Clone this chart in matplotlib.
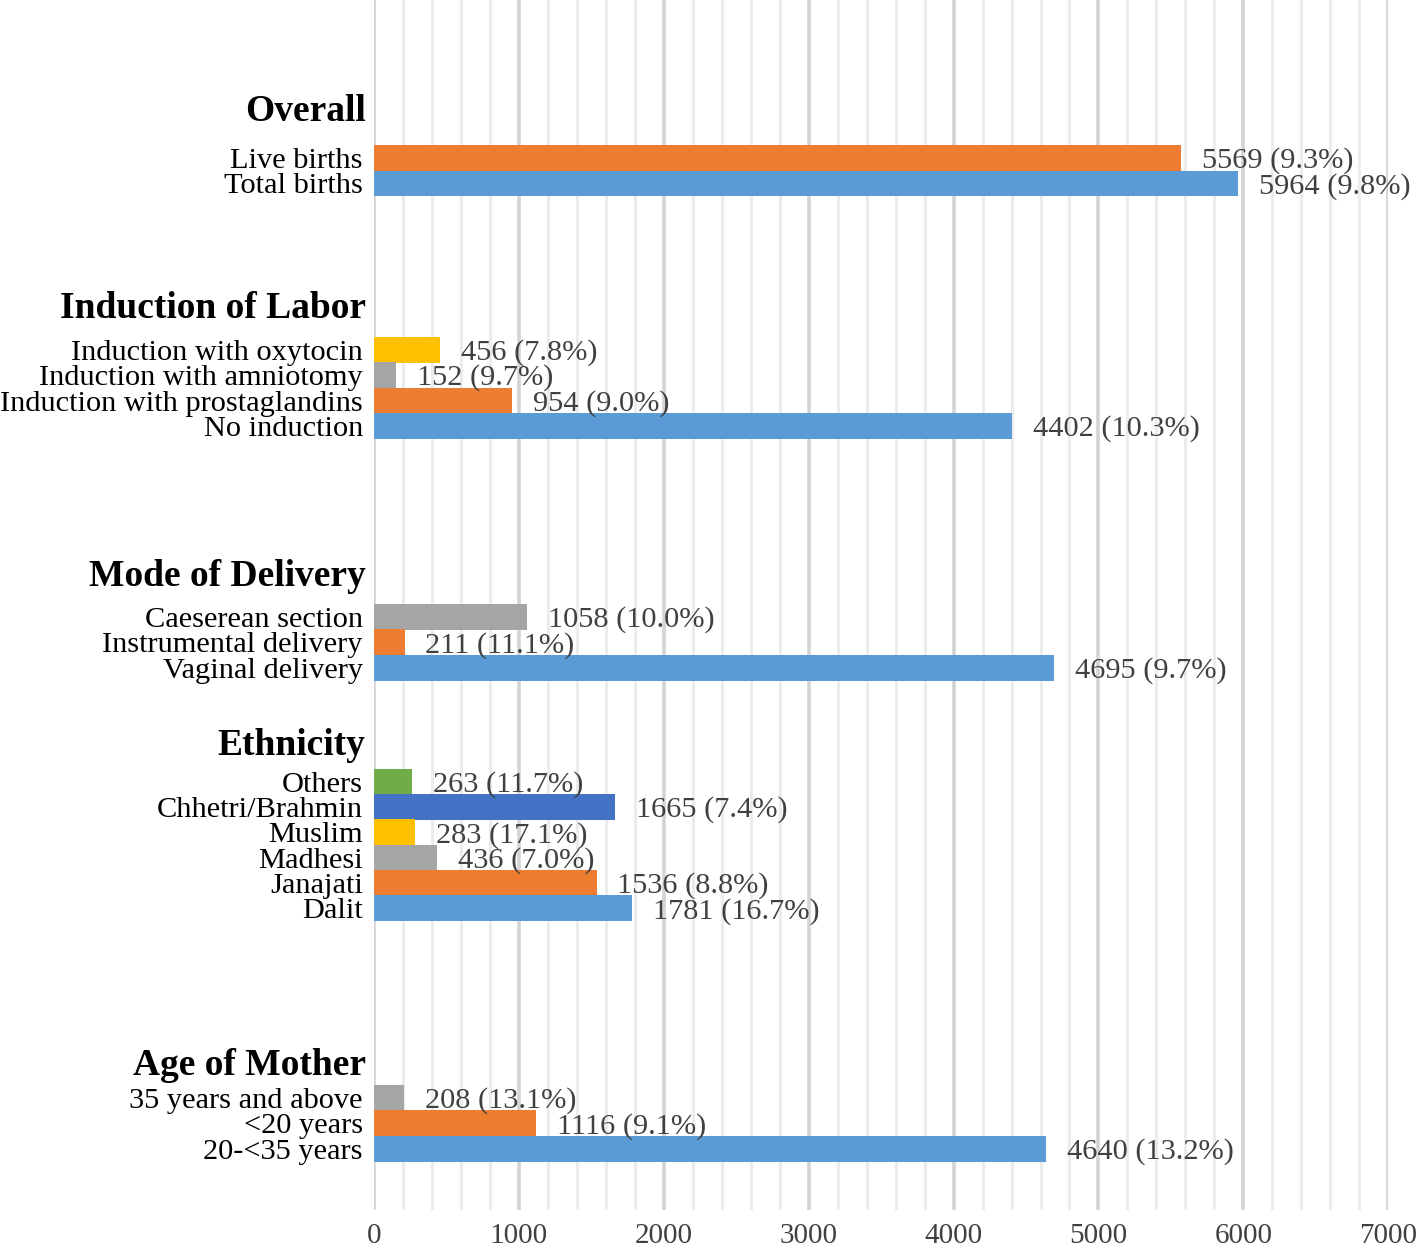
import numpy as np
import matplotlib.pyplot as plt
import matplotlib.transforms as mtransforms

plt.rcParams['font.family'] = ['Liberation Serif', 'DejaVu Serif']

# groups, each listed top to bottom
group_titles = ['Overall', 'Induction of Labor', 'Mode of Delivery', 'Ethnicity', 'Age of Mother']
group_labels = [
    ['Live births', 'Total births'],
    ['Induction with oxytocin', 'Induction with amniotomy', 'Induction with prostaglandins', 'No induction'],
    ['Caeserean section', 'Instrumental delivery', 'Vaginal delivery'],
    ['Others', 'Chhetri/Brahmin', 'Muslim', 'Madhesi', 'Janajati', 'Dalit'],
    ['35 years and above', '<20 years', '20-<35 years'],
]
group_counts = [
    [5569, 5964],
    [456, 152, 954, 4402],
    [1058, 211, 4695],
    [263, 1665, 283, 436, 1536, 1781],
    [208, 1116, 4640],
]
group_pcts = [
    [9.3, 9.8],
    [7.8, 9.7, 9.0, 10.3],
    [10.0, 11.1, 9.7],
    [11.7, 7.4, 17.1, 7.0, 8.8, 16.7],
    [13.1, 9.1, 13.2],
]

# layout (slot units, inverted axis)
group_start = [6.25, 13.83, 24.39, 30.9, 43.4]
title_gap = [1.86, 1.62, 1.62, 1.45, 1.27]
palette = ['#5B9BD5', '#ED7D31', '#A5A5A5', '#FFC000', '#4472C4', '#70AD47']

fig = plt.figure(figsize=(14.18, 12.54), dpi=100)
ax = fig.add_axes([0.2638, 0.035, 0.979 - 0.2638, 0.965])

ax.set_xlim(0, 7000)
ax.set_ylim(47.83, 0)

# gridlines
for x in np.arange(200, 7001, 200):
    major = (x % 1000 == 0)
    ax.axvline(x, color='#d4d4d4' if major else '#ececec', lw=2.6 if major else 2.2, zorder=0)
ax.axvline(0, color='#d4d4d4', lw=2.6, zorder=0)

ytick_pos, ytick_lab = [], []
for g, labels in enumerate(group_labels):
    n = len(labels)
    ys = group_start[g] + np.arange(n)
    colors = [palette[n - 1 - i] for i in range(n)]
    ax.barh(ys, group_counts[g], height=1.02, color=colors, zorder=2)
    for y, v, p in zip(ys, group_counts[g], group_pcts[g]):
        ax.annotate(f'{v} ({p:.1f}%)', xy=(v, y), xytext=(15, -2), textcoords='offset points',
                    va='center', ha='left', fontsize=21.9, color='#404040', zorder=3)
    ytick_pos.extend(ys)
    ytick_lab.extend(labels)
    trans = mtransforms.offset_copy(ax.get_yaxis_transform(), fig=fig, x=-6, y=0, units='points')
    ax.text(0, group_start[g] - title_gap[g], group_titles[g], transform=trans,
            ha='right', va='center', fontsize=27, fontweight='bold', color='black')

ax.set_yticks(ytick_pos)
ax.set_yticklabels(ytick_lab, fontsize=21.9, color='black')
ax.tick_params(axis='y', length=0, pad=8)

ax.set_xticks(np.arange(0, 7001, 1000))
ax.tick_params(axis='x', length=0, pad=9, labelsize=21, labelcolor='#404040')

for s in ax.spines.values():
    s.set_visible(False)

fig.savefig('out.png', dpi=100)
